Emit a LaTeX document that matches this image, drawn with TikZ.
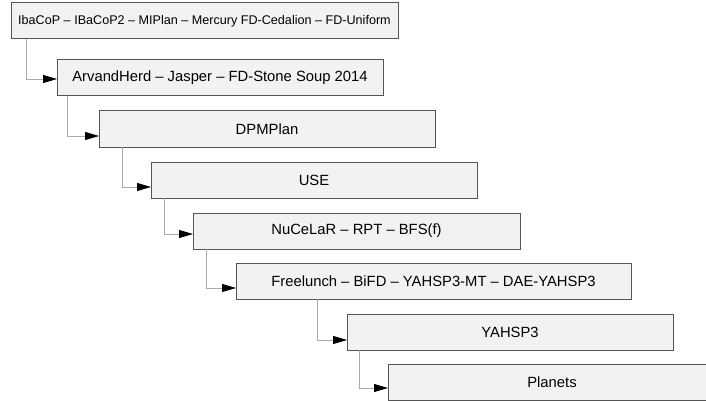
\documentclass[tikz,border=0pt]{standalone}
\usepackage{fontspec}
\setmainfont{Liberation Sans}
\usetikzlibrary{arrows.meta,positioning,calc}
\definecolor{boxfill}{HTML}{F2F2F2}
\definecolor{boxline}{HTML}{555555}
\definecolor{connline}{HTML}{AAAAAA}
\tikzset{planbox/.style={rectangle, draw=boxline, fill=boxfill, line width=1pt, minimum height=36pt, inner sep=0pt, outer sep=0pt, font=\fontsize{14.8}{16}\selectfont}}
\tikzset{conn/.style={draw=connline, line width=0.8pt, -{Triangle[length=14pt, width=8pt, black]}}}

\begin{document}
\begin{tikzpicture}[x=1pt, y=-1pt]
	\useasboundingbox (0,0) rectangle (706,401);
	\node[planbox, minimum width=387pt, font=\fontsize{12.6}{14}\selectfont] (P1) at (204.5,21){IbaCoP – IBaCoP2 – MIPlan – Mercury FD-Cedalion – FD-Uniform};
	\node[planbox, minimum width=326pt] (P2) at (220,78){ArvandHerd – Jasper – FD-Stone Soup 2014};
	\node[planbox, minimum width=336pt] (P3) at (267,129){DPMPlan};
	\node[planbox, minimum width=326pt] (P4) at (314,180){USE};
	\node[planbox, minimum width=327pt] (P5) at (356.5,231){NuCeLaR – RPT – BFS(f)};
	\node[planbox, minimum width=395pt] (P6) at (433.5,281){Freelunch – BiFD – YAHSP3-MT – DAE-YAHSP3};
	\node[planbox, minimum width=326pt] (P7) at (510,332){YAHSP3};
	\node[planbox, minimum width=328pt] (P8) at (552,382){Planets};
	
	\draw[conn] ([xshift=15pt]P1.south west) |- ([yshift=-1pt]P2.west);
	\draw[conn] ([xshift=10pt]P2.south west) |- ([yshift=-7pt]P3.west);
	\draw[conn] ([xshift=23pt]P3.south west) |- ([yshift=-7pt]P4.west);
	\draw[conn] ([xshift=13pt]P4.south west) |- ([yshift=-3pt]P5.west);
	\draw[conn] ([xshift=13pt]P5.south west) |- ([yshift=-7pt]P6.west);
	\draw[conn] ([xshift=81pt]P6.south west) |- ([yshift=-8pt]P7.west);
	\draw[conn] ([xshift=12pt]P7.south west) |- ([yshift=-6pt]P8.west);
\end{tikzpicture}
\end{document}
